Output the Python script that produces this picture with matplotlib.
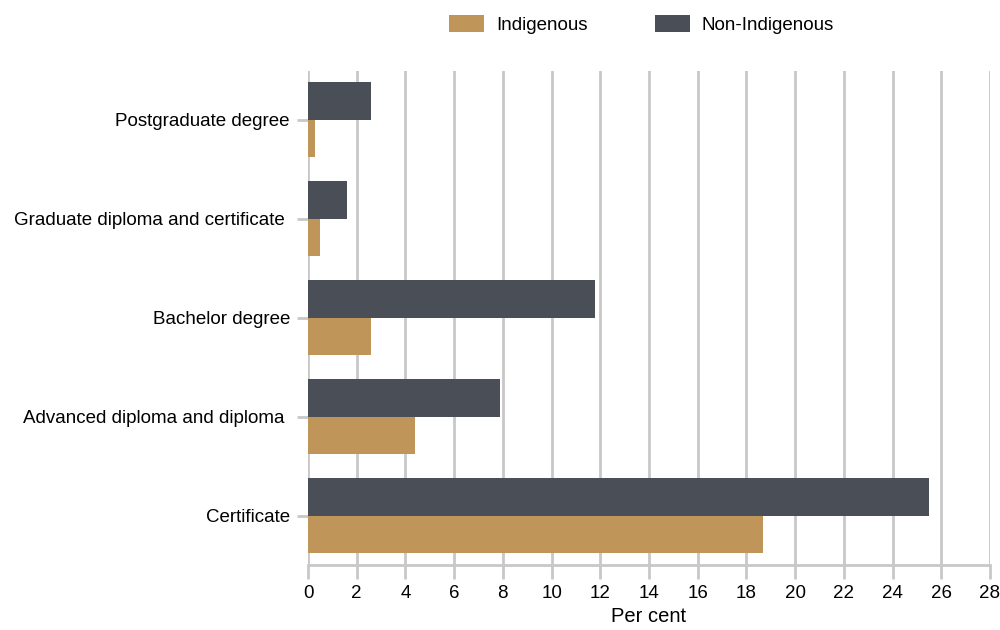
import numpy as np
import matplotlib
matplotlib.use("Agg")
from matplotlib import pyplot as plt

plt.rcParams['font.family'] = ['Liberation Sans', 'DejaVu Sans']

categories = ["Postgraduate degree", "Graduate diploma and certificate ", "Bachelor degree",
              "Advanced diploma and diploma ", "Certificate"]
indigenous = [0.3, 0.5, 2.6, 4.4, 18.7]
non_indigenous = [2.6, 1.6, 11.8, 7.9, 25.5]

col_ind = "#BF9559"
col_non = "#4A4F57"
grid_col = "#C8C8C8"

fig = plt.figure(figsize=(10, 6.3), dpi=100)
ax = fig.add_axes([0.308, 0.103, 0.682, 0.784])

y = np.arange(len(categories))
h = 0.38
ax.barh(y + h / 2, indigenous, height=h, color=col_ind, label="Indigenous", zorder=3)
ax.barh(y - h / 2, non_indigenous, height=h, color=col_non, label="Non-Indigenous", zorder=3)

ax.set_ylim(len(categories) - 0.5, -0.49)
ax.set_xlim(0, 28)
ax.set_xticks(np.arange(0, 29, 2))
ax.set_yticks(y)
ax.set_yticklabels(categories)
ax.xaxis.grid(True, color=grid_col, linewidth=2, zorder=0)
for s in ["top", "right", "left"]:
    ax.spines[s].set_visible(False)
ax.spines["bottom"].set_color(grid_col)
ax.spines["bottom"].set_linewidth(2)
ax.tick_params(axis="x", length=10, width=2, color=grid_col, labelsize=13.5, pad=4)
ax.tick_params(axis="y", length=8, width=2, color=grid_col, labelsize=13.5, pad=5)
ax.set_xlabel("Per cent", fontsize=14.5, labelpad=4)

fig.legend(loc="upper center", bbox_to_anchor=(0.6415, 1.003), ncol=2, frameon=False,
           fontsize=13.5, handlelength=1.85, handleheight=1.0, handletextpad=0.65,
           columnspacing=3.6)

plt.savefig("out.png")
